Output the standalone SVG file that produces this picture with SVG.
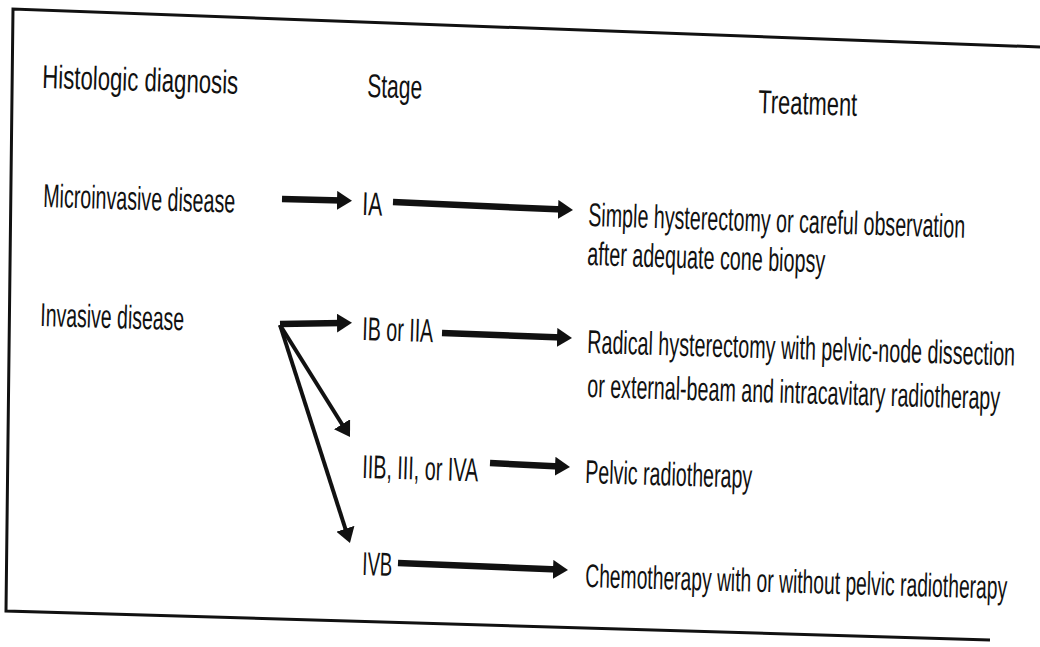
<svg xmlns="http://www.w3.org/2000/svg" width="1040" height="647" viewBox="0 0 1040 647">
<style>
text{font-family:"Liberation Sans",Arial,sans-serif;font-size:33px;fill:#111;}
.frame{fill:none;stroke:#111;stroke-width:3;}
.thick{stroke:#111;stroke-width:6.5;fill:none;}
.thin{stroke:#111;stroke-width:4;fill:none;}
</style>
<defs>
<marker id="ah" markerUnits="userSpaceOnUse" markerWidth="15" markerHeight="19" viewBox="0 0 15 19" refX="5" refY="9.5" orient="auto">
<path d="M0,0 L15,9.5 L0,19 z" fill="#111"/>
</marker>
</defs>
<rect width="1040" height="647" fill="#fff"/>
<g id="frame">
<polyline class="frame" points="1040,47 13,9 6,611 990,640"/>
</g>
<g id="headers">
<text x="42" y="88" textLength="196" lengthAdjust="spacingAndGlyphs" transform="rotate(1.7 42 88)">Histologic diagnosis</text>
<text x="367" y="97" textLength="55" lengthAdjust="spacingAndGlyphs" transform="rotate(1.7 367 97)">Stage</text>
<text x="758" y="113" textLength="99" lengthAdjust="spacingAndGlyphs" transform="rotate(1.7 758 113)">Treatment</text>
</g>
<g id="micro"><text x="43" y="207" textLength="192" lengthAdjust="spacingAndGlyphs" transform="rotate(1.7 43 207)">Microinvasive disease</text></g>
<g id="invasive"><text x="40" y="326" textLength="144" lengthAdjust="spacingAndGlyphs" transform="rotate(1.7 40 326)">Invasive disease</text></g>
<g id="stageIA"><text x="362" y="215" textLength="20" lengthAdjust="spacingAndGlyphs" transform="rotate(1.7 362 215)">IA</text></g>
<g id="stageIB"><text x="362" y="340" textLength="71" lengthAdjust="spacingAndGlyphs" transform="rotate(1.7 362 340)">IB or IIA</text></g>
<g id="stageIIB"><text x="362" y="478" textLength="116" lengthAdjust="spacingAndGlyphs" transform="rotate(1.7 362 478)">IIB, III, or IVA</text></g>
<g id="stageIVB"><text x="362" y="575" textLength="30" lengthAdjust="spacingAndGlyphs" transform="rotate(1.7 362 575)">IVB</text></g>
<g id="txSimple">
<text x="588" y="226" textLength="377" lengthAdjust="spacingAndGlyphs" transform="rotate(1.8 588 226)">Simple hysterectomy or careful observation</text>
<text x="587" y="265" textLength="238" lengthAdjust="spacingAndGlyphs" transform="rotate(1.8 587 265)">after adequate cone biopsy</text>
</g>
<g id="txRadical">
<text x="587" y="353" textLength="428" lengthAdjust="spacingAndGlyphs" transform="rotate(1.7 587 353)">Radical hysterectomy with pelvic-node dissection</text>
<text x="587" y="397" textLength="413" lengthAdjust="spacingAndGlyphs" transform="rotate(1.7 587 397)">or external-beam and intracavitary radiotherapy</text>
</g>
<g id="txPelvic"><text x="585" y="483" textLength="167" lengthAdjust="spacingAndGlyphs" transform="rotate(1.7 585 483)">Pelvic radiotherapy</text></g>
<g id="txChemo"><text x="585" y="587" textLength="422" lengthAdjust="spacingAndGlyphs" transform="rotate(1.6 585 587)">Chemotherapy with or without pelvic radiotherapy</text></g>
<g id="connectors">
<line class="thick" x1="282" y1="199" x2="342" y2="200.5" marker-end="url(#ah)"/>
<line class="thick" x1="393" y1="202" x2="563" y2="209.6" marker-end="url(#ah)"/>
<line class="thick" x1="280" y1="324" x2="342" y2="323" marker-end="url(#ah)"/>
<line class="thick" x1="442" y1="333" x2="562" y2="337.6" marker-end="url(#ah)"/>
<line class="thick" x1="490" y1="463" x2="560" y2="466.5" marker-end="url(#ah)"/>
<line class="thick" x1="398" y1="563" x2="558" y2="569.6" marker-end="url(#ah)"/>
<line class="thin" x1="280" y1="325" x2="344.7" y2="428.5" marker-end="url(#ah)"/>
<line class="thin" x1="280" y1="325" x2="346.9" y2="533.5" marker-end="url(#ah)"/>
</g>
</svg>
